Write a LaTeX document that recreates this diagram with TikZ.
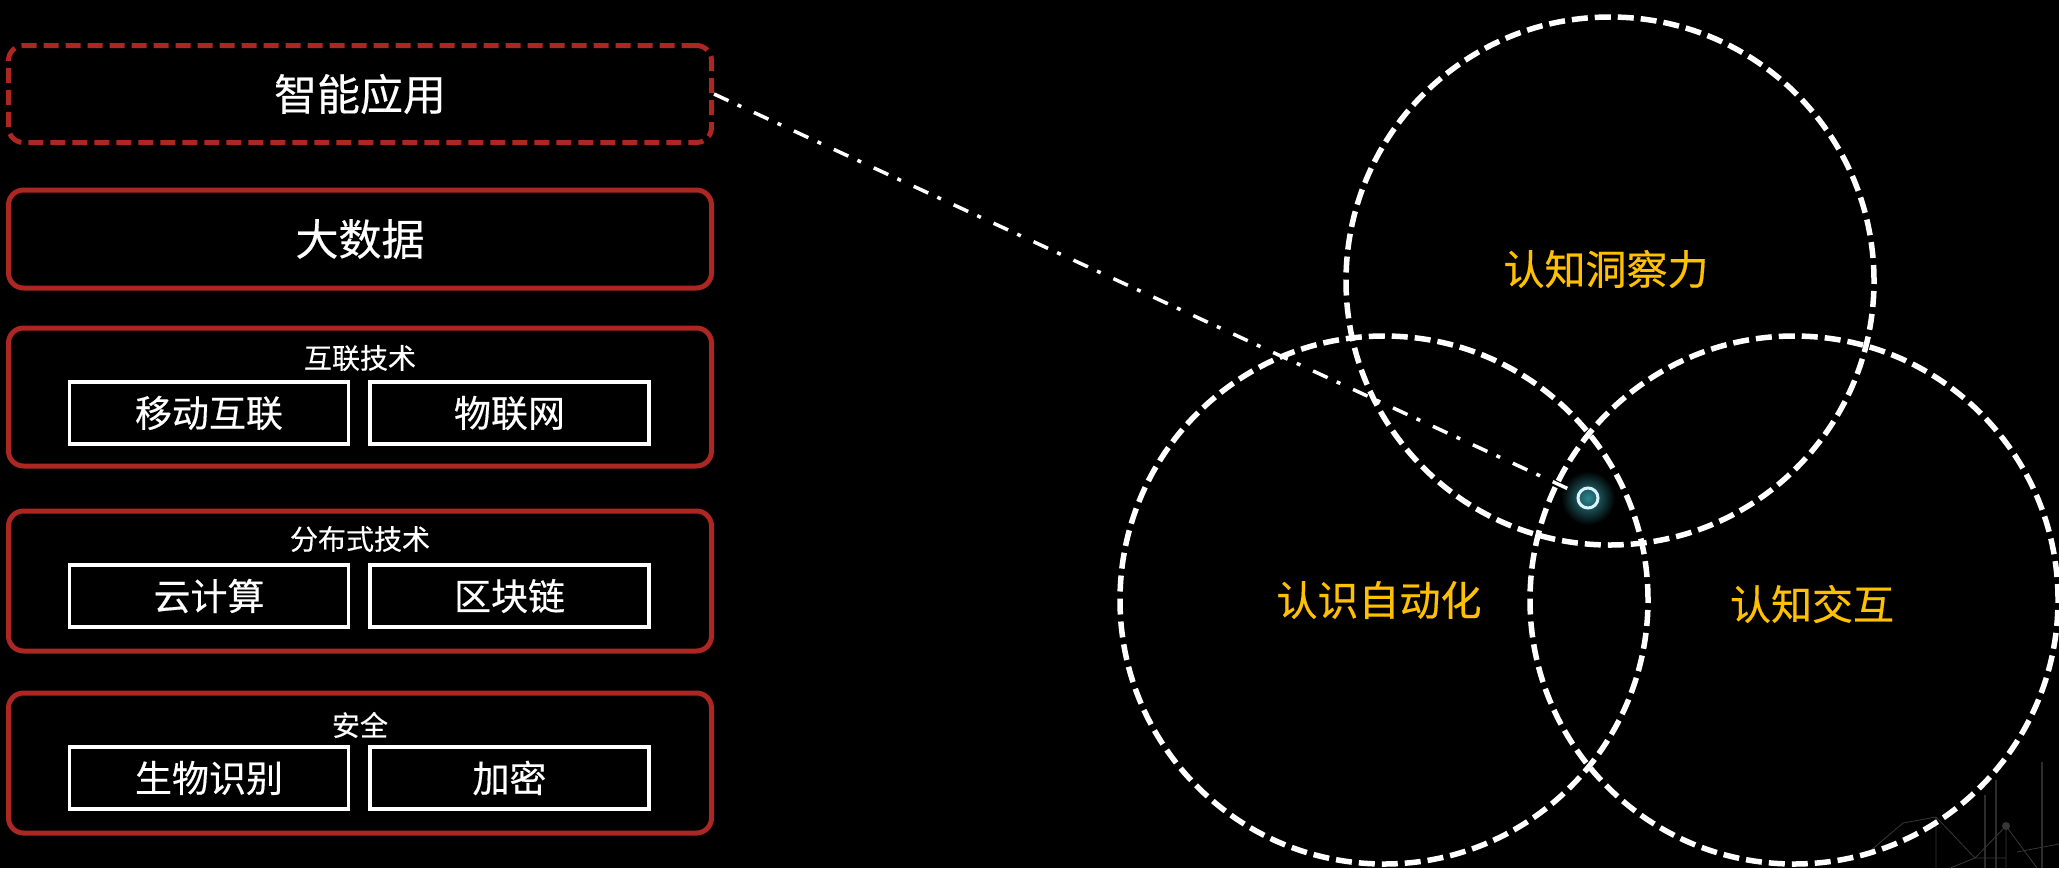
\documentclass[tikz,border=0pt]{standalone}
\usepackage{fontspec}
\setmainfont{Noto Sans CJK SC}[FakeBold=0.4]
\usetikzlibrary{
	positioning,
	calc
}

\definecolor{layerred}{RGB}{172,38,34}
\definecolor{insight}{RGB}{255,192,0}
\definecolor{glow}{RGB}{45,135,145}
\definecolor{faint}{RGB}{55,55,55}

\begin{document}
\begin{tikzpicture}[
		x = 1pt, y = -1pt,
		node distance = 18pt and 18pt,
		layer/.style={
			draw = layerred,
			line width = 5pt,
			rounded corners = 15pt,
			minimum width = 703pt,
			minimum height = 140pt,
			text = white,
			font = \fontsize{43}{46}\selectfont
		},
		cell/.style={
			draw = white,
			line width = 3.5pt,
			minimum width = 279pt,
			minimum height = 62pt,
			text = white,
			font = \fontsize{37}{40}\selectfont
		},
		tag/.style={
			text = white,
			font = \fontsize{28}{30}\selectfont
		},
		venn/.style={
			draw = white,
			circle,
			line width = 5.5pt,
			dash pattern = on 16pt off 7pt,
			minimum size = 528pt,
			inner sep = 0pt
		},
		venntext/.style={
			text = insight,
			font = \fontsize{41}{44}\selectfont
		},
		link/.style={
			draw = white,
			line width = 3.5pt,
			dash pattern = on 16pt off 10pt on 4pt off 14pt,
			shorten > = 4pt
		}
		]
		
		% background
		\fill[black] (0,0) rectangle (2059,868);
		\useasboundingbox (0,0) rectangle (2059,868);
		
		% faint network in the corner
		\begin{scope}[faint, line width = 0.8pt]
			\draw (1863,857) -- (1903,823) -- (1936,817) -- (1936,868);
			\draw (1936,817) -- (1975,858) -- (2006,858);
			\draw (1950,868) -- (1975,858) -- (2006,826) -- (2006,868);
			\draw (2006,826) -- (2037,868);
			\draw (2017,852) -- (2059,844);
			\fill (2006,826) circle (4);
			\draw[line width = 2pt, opacity = 0.8] (1985,795) -- (1985,868);
			\draw[line width = 2pt, opacity = 0.8] (1996,780) -- (1996,868);
			\draw[line width = 2pt, opacity = 0.8] (2042,762) -- (2042,868);
		\end{scope}
		
		% layers
		\node[layer, dash pattern = on 15pt off 7pt, minimum height = 97pt] (apps) at (360,94) {智能应用};
		\node[layer, minimum height = 98pt] (data) at (360,239) {大数据};
		\node[layer, minimum height = 138pt] (net) at (360,397) {};
		\node[layer] (dist) at (360,581) {};
		\node[layer] (safe) at (360,763) {};
		
		\node[tag] (netT) at ($(net.center)+(0,-39)$) {互联技术};
		\node[cell] (mobile) at (209,413) {移动互联};
		\node[cell, right = of mobile] (iot) {物联网};
		
		\node[tag] (distT) at ($(dist.center)+(0,-42)$) {分布式技术};
		\node[cell] (cloud) at (209,596) {云计算};
		\node[cell, right = of cloud] (chain) {区块链};
		
		\node[tag] (safeT) at ($(safe.center)+(0,-38)$) {安全};
		\node[cell] (bio) at (209,778) {生物识别};
		\node[cell, right = of bio] (crypt) {加密};
		
		% circles
		\node[venn] (insightC) at (1610,281) {};
		\node[venn] (autoC) at (1384,600) {};
		\node[venn] (talkC) at (1794,600) {};
		
		\node[venntext] (insightL) at ($(insightC.center)+(-4,-12)$) {认知洞察力};
		\node[venntext] (autoL) at ($(autoC.center)+(-5,0)$) {认识自动化};
		\node[venntext] (talkL) at ($(talkC.center)+(18,4)$) {认知交互};
		
		% focus point
		\shade[inner color = glow, outer color = black] (1588,498) circle (27);
		\node[circle, draw = white!85!cyan, line width = 3pt, minimum size = 20pt, inner sep = 0pt] (focus) at (1588,498) {};
		
		\draw[link] (apps.east) -- (focus);
	\end{tikzpicture}
\end{document}
